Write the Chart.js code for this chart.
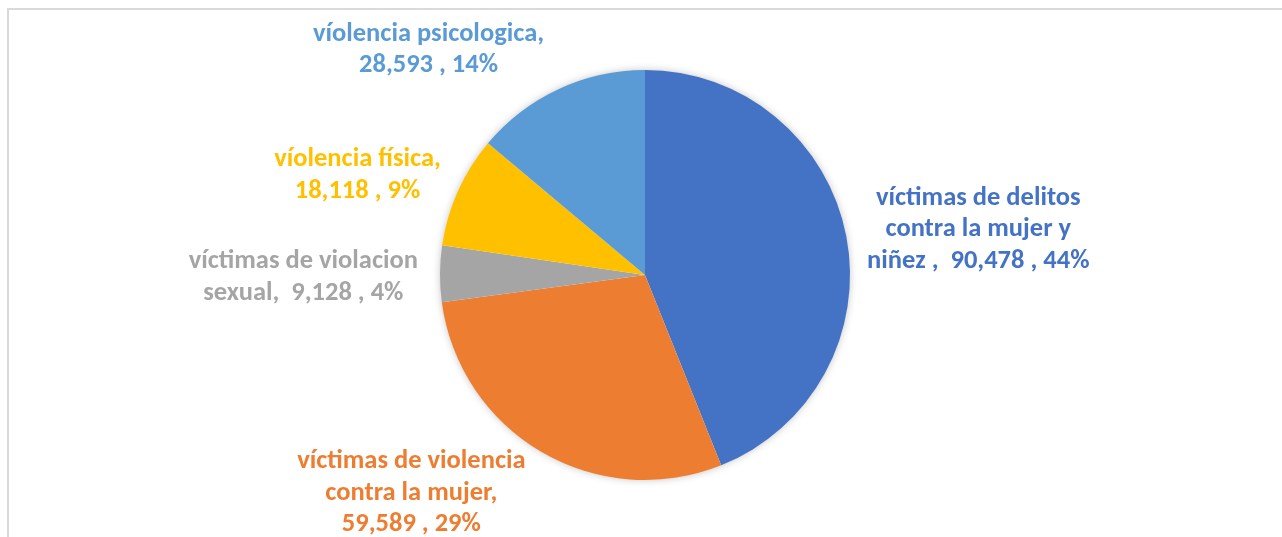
<!DOCTYPE html>
<html>
<head>
<meta charset="utf-8">
<script src="https://cdn.jsdelivr.net/npm/chart.js@4.4.1/dist/chart.umd.min.js"></script>
<style>
  html, body { margin:0; padding:0; background:#fff; }
  .wrap { position:relative; width:1282px; height:537px; overflow:hidden; }
  .frame { position:absolute; left:7px; top:8px; right:-4px; bottom:-4px; border-top:2px solid #d9d9d9; border-left:2px solid #d9d9d9; }
  canvas { position:absolute; left:0; top:0; }
</style>
</head>
<body>
<div class="wrap">
  <div class="frame"></div>
  <canvas id="pie" width="1282" height="537"></canvas>
</div>
<script>
// ── DATA ──
const categories = [
  'víctimas de delitos contra la mujer y niñez',
  'víctimas de violencia contra la mujer',
  'víctimas de violacion sexual',
  'víolencia física',
  'víolencia psicologica',
];
const values = [90478, 59589, 9128, 18118, 28593];
// label text as shown (line breaks as in the picture)
const labelLines = [
  ['víctimas de delitos', 'contra la mujer y', 'niñez ,  90,478 , 44%'],
  ['víctimas de violencia', 'contra la mujer,', '59,589 , 29%'],
  ['víctimas de violacion', 'sexual,  9,128 , 4%'],
  ['víolencia física,', '18,118 , 9%'],
  ['víolencia psicologica,', '28,593 , 14%'],
];
const colors = ['#4472C4', '#ED7D31', '#A5A5A5', '#FFC000', '#5B9BD5'];

// ── STYLE ──
const FONT = "'Carlito', 'Lato', 'Open Sans', sans-serif";
const FONT_SIZE = 26.5;
const LINE_H = 31.5;
const LABEL_GAP = 10;
const LABEL_NUDGE = [[11, 13], [-11, -15], [-12, 4], [-8, 14], [-28, 1]];

const clamp = (v, a, b) => Math.max(a, Math.min(b, v));

// soft shadow under the whole pie
const pieShadow = {
  id: 'pieShadow',
  beforeDatasetsDraw(chart) {
    const arc = chart.getDatasetMeta(0).data[0];
    if (!arc) return;
    const ctx = chart.ctx;
    ctx.save();
    ctx.shadowColor = 'rgba(0,0,0,0.28)';
    ctx.shadowBlur = 9;
    ctx.beginPath(); ctx.arc(arc.x, arc.y, arc.outerRadius - 1, 0, Math.PI * 2);
    ctx.fillStyle = '#fff'; ctx.fill();
    ctx.restore();
  }
};

// outside labels, placed from each arc's mid angle
const outsideLabels = {
  id: 'outsideLabels',
  afterDatasetsDraw(chart) {
    const ctx = chart.ctx;
    const meta = chart.getDatasetMeta(0);
    ctx.save();
    ctx.font = `700 ${FONT_SIZE}px ${FONT}`;
    ctx.textAlign = 'center';
    ctx.textBaseline = 'middle';
    meta.data.forEach((arc, i) => {
      const lines = labelLines[i];
      const mid = (arc.startAngle + arc.endAngle) / 2;
      const dx = Math.cos(mid), dy = Math.sin(mid);
      const r = arc.outerRadius + LABEL_GAP;
      const w = Math.max(...lines.map(l => ctx.measureText(l).width));
      const h = lines.length * LINE_H;
      const cx = arc.x + r * dx + clamp(dx / 0.5, -1, 1) * w / 2 + LABEL_NUDGE[i][0];
      const cy = arc.y + r * dy + clamp(dy / 0.5, -1, 1) * h / 2 + LABEL_NUDGE[i][1];
      ctx.fillStyle = colors[i];
      lines.forEach((l, k) => ctx.fillText(l, cx, cy - h / 2 + LINE_H * (k + 0.5)));
    });
    ctx.restore();
  }
};

new Chart(document.getElementById('pie'), {
  type: 'pie',
  data: {
    labels: categories,
    datasets: [{ data: values, backgroundColor: colors, borderWidth: 0, hoverOffset: 0 }]
  },
  options: {
    responsive: false,
    animation: false,
    layout: { padding: { top: 70, bottom: 57, left: 240, right: 232 } },
    plugins: { legend: { display: false }, tooltip: { enabled: false } }
  },
  plugins: [pieShadow, outsideLabels]
});
</script>
</body>
</html>
